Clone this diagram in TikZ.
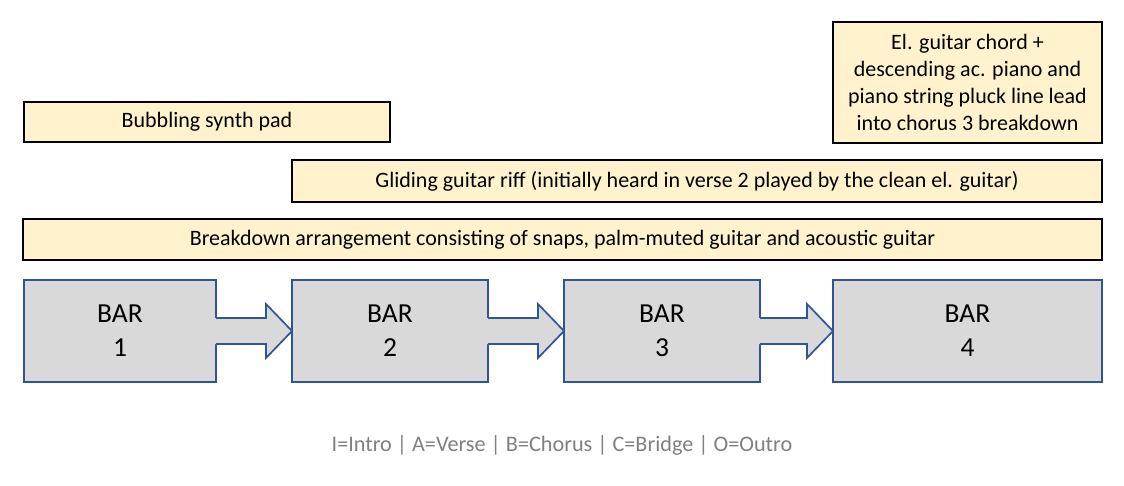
\documentclass[tikz,border=0pt]{standalone}
\usepackage{fontspec}
\setmainfont{Carlito}
\usetikzlibrary{calc}
\definecolor{barfill}{HTML}{D9D9D9}
\definecolor{barline}{HTML}{2F5597}
\definecolor{notefill}{HTML}{FFF2CC}
\definecolor{legendgray}{HTML}{808080}
\tikzset{
  barbox/.style={draw=barline, fill=barfill, line width=1.7pt, outer sep=0pt, inner sep=0pt,
    align=center, font=\fontsize{27.5}{34}\selectfont},
  notebox/.style={draw=black, fill=notefill, line width=1.7pt, outer sep=0pt, inner sep=0pt,
    align=center, font=\fontsize{22}{27}\selectfont},
  legend/.style={text=legendgray, font=\fontsize{22.2}{26}\selectfont, inner sep=0pt},
  arrowfill/.style={fill=barfill, draw=none},
  arrowline/.style={draw=barline, line width=1.7pt, line join=miter}
}
\newcommand{\blockarrow}[2]{%
  \fill[arrowfill] ($(#1.east)+(-2.5,-13)$) -- ($(#2.west)+(-26,-13)$) -- ($(#2.west)+(-26,-27)$)
    -- (#2.west) -- ($(#2.west)+(-26,27)$) -- ($(#2.west)+(-26,13)$) -- ($(#1.east)+(-2.5,13)$) -- cycle;
  \draw[arrowline] ($(#1.east)+(0,-13)$) -- ($(#2.west)+(-26,-13)$) -- ($(#2.west)+(-26,-27)$)
    -- (#2.west) -- ($(#2.west)+(-26,27)$) -- ($(#2.west)+(-26,13)$) -- ($(#1.east)+(0,13)$);
}
\begin{document}
\begin{tikzpicture}[x=1pt,y=-1pt]
\useasboundingbox (0,0) rectangle (1124,486);
\fill[white] (0,0) rectangle (1124,486);

\node[notebox, minimum width=269pt, minimum height=121pt] (elg) at (967.5,82.5)
  {El. guitar chord +\\descending ac. piano and\\piano string pluck line lead\\into chorus 3 breakdown};
\node[notebox, minimum width=366pt, minimum height=40pt] (synth) at (207,122) {Bubbling synth pad};
\node[notebox, minimum width=810pt, minimum height=42pt] (glide) at (697,181)
  {Gliding guitar riff (initially heard in verse 2 played by the clean el. guitar)};
\node[notebox, minimum width=1079pt, minimum height=41pt] (brk) at (562.5,239.5)
  {Breakdown arrangement consisting of snaps, palm-muted guitar and acoustic guitar};

\node[barbox, minimum width=192pt, minimum height=102pt] (b1) at (120,331) {BAR\\1};
\node[barbox, minimum width=196pt, minimum height=102pt] (b2) at (390,331) {BAR\\2};
\node[barbox, minimum width=196pt, minimum height=102pt] (b3) at (662,331) {BAR\\3};
\node[barbox, minimum width=269pt, minimum height=102pt] (b4) at (967.5,331) {BAR\\4};

\blockarrow{b1}{b2}
\blockarrow{b2}{b3}
\blockarrow{b3}{b4}

\node[legend] (leg) at (562,445) {I=Intro | A=Verse | B=Chorus | C=Bridge | O=Outro};
\end{tikzpicture}
\end{document}
